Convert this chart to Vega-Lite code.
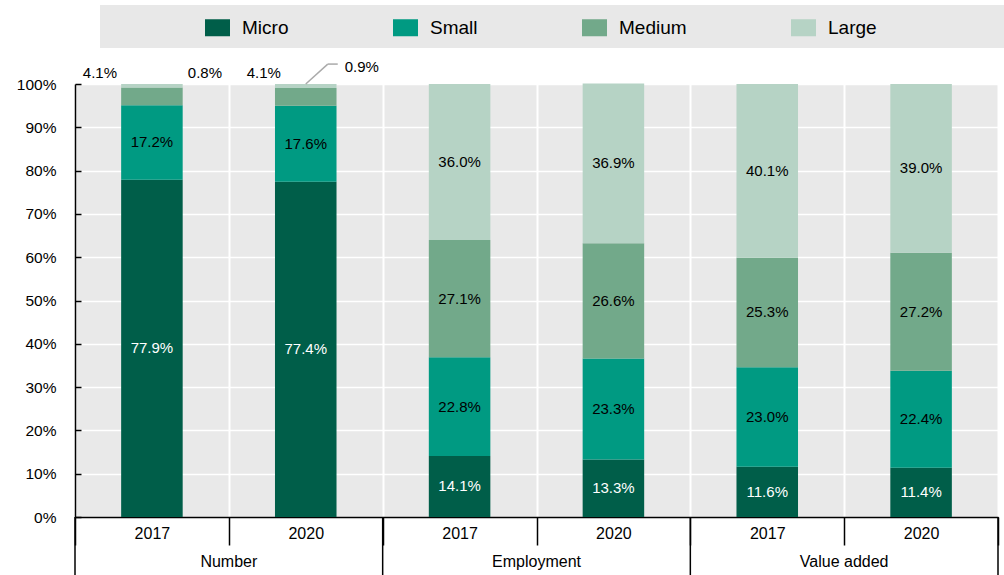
{
  "$schema": "https://vega.github.io/schema/vega-lite/v6.json",
  "width": 923,
  "height": 433,
  "autosize": "none",
  "padding": {"left": 75, "top": 84, "right": 6, "bottom": 58},
  "background": "white",
  "config": {
    "font": "Liberation Sans",
    "view": {"fill": "#e9e9e9", "stroke": null}
  },
  "data": {
    "values": [
      {"group": "Number", "year": "2017", "key": "Number 2017", "size": "Micro", "value": 0.779},
      {"group": "Number", "year": "2017", "key": "Number 2017", "size": "Small", "value": 0.172},
      {"group": "Number", "year": "2017", "key": "Number 2017", "size": "Medium", "value": 0.041},
      {"group": "Number", "year": "2017", "key": "Number 2017", "size": "Large", "value": 0.008},
      {"group": "Number", "year": "2020", "key": "Number 2020", "size": "Micro", "value": 0.774},
      {"group": "Number", "year": "2020", "key": "Number 2020", "size": "Small", "value": 0.176},
      {"group": "Number", "year": "2020", "key": "Number 2020", "size": "Medium", "value": 0.041},
      {"group": "Number", "year": "2020", "key": "Number 2020", "size": "Large", "value": 0.009},
      {"group": "Employment", "year": "2017", "key": "Employment 2017", "size": "Micro", "value": 0.141},
      {"group": "Employment", "year": "2017", "key": "Employment 2017", "size": "Small", "value": 0.228},
      {"group": "Employment", "year": "2017", "key": "Employment 2017", "size": "Medium", "value": 0.271},
      {"group": "Employment", "year": "2017", "key": "Employment 2017", "size": "Large", "value": 0.360},
      {"group": "Employment", "year": "2020", "key": "Employment 2020", "size": "Micro", "value": 0.133},
      {"group": "Employment", "year": "2020", "key": "Employment 2020", "size": "Small", "value": 0.233},
      {"group": "Employment", "year": "2020", "key": "Employment 2020", "size": "Medium", "value": 0.266},
      {"group": "Employment", "year": "2020", "key": "Employment 2020", "size": "Large", "value": 0.369},
      {"group": "Value added", "year": "2017", "key": "Value added 2017", "size": "Micro", "value": 0.116},
      {"group": "Value added", "year": "2017", "key": "Value added 2017", "size": "Small", "value": 0.230},
      {"group": "Value added", "year": "2017", "key": "Value added 2017", "size": "Medium", "value": 0.253},
      {"group": "Value added", "year": "2017", "key": "Value added 2017", "size": "Large", "value": 0.401},
      {"group": "Value added", "year": "2020", "key": "Value added 2020", "size": "Micro", "value": 0.114},
      {"group": "Value added", "year": "2020", "key": "Value added 2020", "size": "Small", "value": 0.224},
      {"group": "Value added", "year": "2020", "key": "Value added 2020", "size": "Medium", "value": 0.272},
      {"group": "Value added", "year": "2020", "key": "Value added 2020", "size": "Large", "value": 0.390}
    ]
  },
  "transform": [
    {"calculate": "indexof(['Micro', 'Small', 'Medium', 'Large'], datum.size)", "as": "ord"}
  ],
  "layer": [
    {
      "mark": {"type": "bar", "width": {"band": 0.4}},
      "encoding": {
        "x": {
          "field": "key", "type": "nominal", "sort": null,
          "scale": {"paddingInner": 0, "paddingOuter": 0},
          "axis": {
            "title": null, "labelExpr": "slice(datum.label, -4)", "labelAngle": 0,
            "tickBand": "extent", "tickSize": 28, "tickColor": "black", "tickWidth": 1.5,
            "domainColor": "black", "domainWidth": 1.5,
            "grid": true, "gridColor": "white", "gridWidth": 2,
            "labelPadding": -20, "labelBaseline": "top", "labelFontSize": 16, "labelColor": "black"
          }
        },
        "y": {
          "field": "value", "type": "quantitative", "stack": "zero",
          "scale": {"domain": [0, 1], "nice": false},
          "axis": {
            "title": null, "format": ".0%", "values": [0, 0.1, 0.2, 0.3, 0.4, 0.5, 0.6, 0.7, 0.8, 0.9, 1],
            "grid": true, "gridColor": "white", "gridWidth": 1.5,
            "domainColor": "black", "domainWidth": 1.5,
            "tickColor": "black", "tickSize": -6, "tickWidth": 1.5,
            "labelFontSize": 15.5, "labelColor": "black", "labelPadding": 25
          }
        },
        "order": {"field": "ord", "type": "quantitative"},
        "color": {
          "field": "size", "type": "nominal", "sort": ["Micro", "Small", "Medium", "Large"],
          "scale": {"domain": ["Micro", "Small", "Medium", "Large"], "range": ["#005e49", "#009a82", "#72a98a", "#b6d3c5"]},
          "legend": {
            "title": " ", "orient": "none", "legendX": 25, "legendY": -79, "direction": "horizontal",
            "fillColor": "#e8e8e8", "padding": 10,
            "symbolType": "M-1,-0.68H1V0.68H-1Z", "symbolSize": 625, "symbolOffset": 95, "symbolStrokeWidth": 0,
            "labelFontSize": 19, "labelOffset": 12, "labelColor": "black",
            "columnPadding": 9, "gridAlign": "each",
            "titleOrient": "right", "titlePadding": 118
          }
        }
      }
    },
    {
      "transform": [{"filter": "!(datum.group === 'Number' && (datum.size === 'Medium' || datum.size === 'Large'))"}],
      "mark": {"type": "text", "fontSize": 15, "baseline": "middle"},
      "encoding": {
        "x": {"field": "key", "type": "nominal", "sort": null},
        "y": {"field": "value", "type": "quantitative", "stack": "zero", "bandPosition": 0.5},
        "order": {"field": "ord", "type": "quantitative"},
        "detail": {"field": "size", "type": "nominal"},
        "color": {"condition": {"test": "datum.size === 'Micro'", "value": "white"}, "value": "black"},
        "text": {"field": "value", "type": "quantitative", "format": ".1%"}
      }
    },
    {
      "transform": [{"filter": "datum.group === 'Number' && datum.size === 'Medium' && datum.year === '2017'"}],
      "mark": {"type": "text", "fontSize": 15, "baseline": "middle", "dx": -52, "color": "black"},
      "encoding": {
        "x": {"field": "key", "type": "nominal", "sort": null},
        "y": {"datum": 1.025},
        "text": {"field": "value", "type": "quantitative", "format": ".1%"}
      }
    },
    {
      "transform": [{"filter": "datum.group === 'Number' && datum.size === 'Medium' && datum.year === '2020'"}],
      "mark": {"type": "text", "fontSize": 15, "baseline": "middle", "dx": -42, "color": "black"},
      "encoding": {
        "x": {"field": "key", "type": "nominal", "sort": null},
        "y": {"datum": 1.025},
        "text": {"field": "value", "type": "quantitative", "format": ".1%"}
      }
    },
    {
      "transform": [{"filter": "datum.group === 'Number' && datum.size === 'Large' && datum.year === '2017'"}],
      "mark": {"type": "text", "fontSize": 15, "baseline": "middle", "dx": 53, "color": "black"},
      "encoding": {
        "x": {"field": "key", "type": "nominal", "sort": null},
        "y": {"datum": 1.025},
        "text": {"field": "value", "type": "quantitative", "format": ".1%"}
      }
    },
    {
      "transform": [{"filter": "datum.group === 'Number' && datum.size === 'Large' && datum.year === '2020'"}],
      "mark": {"type": "text", "fontSize": 15, "baseline": "middle", "dx": 56, "color": "black"},
      "encoding": {
        "x": {"field": "key", "type": "nominal", "sort": null},
        "y": {"datum": 1.039},
        "text": {"field": "value", "type": "quantitative", "format": ".1%"}
      }
    },
    {
      "transform": [{"filter": "datum.group === 'Number' && datum.size === 'Large' && datum.year === '2020'"}],
      "mark": {"type": "rule", "color": "#aaaaaa", "strokeWidth": 1.5, "x2Offset": 22},
      "encoding": {
        "x": {"field": "key", "type": "nominal", "sort": null},
        "x2": {"field": "key"},
        "y": {"datum": 1.0},
        "y2": {"datum": 1.046}
      }
    },
    {
      "transform": [{"filter": "datum.group === 'Number' && datum.size === 'Large' && datum.year === '2020'"}],
      "mark": {"type": "rule", "color": "#aaaaaa", "strokeWidth": 1.5, "xOffset": 22, "x2Offset": 32},
      "encoding": {
        "x": {"field": "key", "type": "nominal", "sort": null},
        "x2": {"field": "key"},
        "y": {"datum": 1.046}
      }
    },
    {
      "transform": [{"filter": "datum.size === 'Micro' && datum.year === '2017'"}],
      "mark": {"type": "rule", "color": "black", "strokeWidth": 1.5},
      "encoding": {
        "x": {"field": "key", "type": "nominal", "sort": null, "bandPosition": 0},
        "y": {"datum": 0},
        "y2": {"datum": -0.134}
      }
    },
    {
      "transform": [{"filter": "datum.size === 'Micro' && datum.key === 'Value added 2020'"}],
      "mark": {"type": "rule", "color": "black", "strokeWidth": 1.5},
      "encoding": {
        "x": {"field": "key", "type": "nominal", "sort": null, "bandPosition": 1},
        "y": {"datum": 0},
        "y2": {"datum": -0.134}
      }
    },
    {
      "transform": [{"filter": "datum.size === 'Micro' && datum.year === '2017'"}],
      "mark": {"type": "text", "fontSize": 16, "baseline": "middle", "color": "black"},
      "encoding": {
        "x": {"field": "key", "type": "nominal", "sort": null, "bandPosition": 1},
        "y": {"datum": -0.104},
        "text": {"field": "group", "type": "nominal"}
      }
    }
  ]
}
